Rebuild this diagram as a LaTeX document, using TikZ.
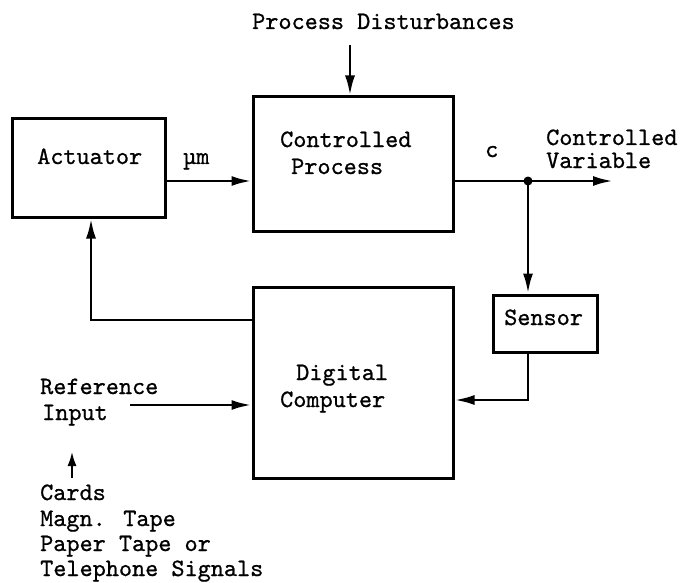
\documentclass[tikz,border=0pt]{standalone}
\usepackage{fontspec}
\newfontfamily\twfont{lmmono10-regular.otf}[FakeBold=0.8]
\usetikzlibrary{arrows.meta}
\begin{document}
\begin{tikzpicture}[x=1pt,y=-1pt,
  box/.style={draw, line width=3pt, inner sep=0pt},
  lbl/.style={font=\fontsize{25}{26}\selectfont\twfont, inner sep=0pt, anchor=west, text height=14pt, text depth=0pt},
  conn/.style={line width=2.8pt},
  arr/.style={conn, -{Latex[length=20pt,width=10pt]}}]
\useasboundingbox (0,0) rectangle (680,583);
% boxes
\node[box, minimum width=153pt, minimum height=98pt] (act) at (88.5,168) {};
\node[box, minimum width=200pt, minimum height=134pt] (proc) at (353,164) {};
\node[box, minimum width=200pt, minimum height=191pt] (dc) at (353,382.5) {};
\node[box, minimum width=104pt, minimum height=57pt] (sens) at (545,323.5) {};
% labels
\node[lbl] (tact) at (37,157) {Actuator};
\node[lbl] (tmu) at (183,157) {µm};
\node[lbl] (tproc1) at (280,140) {Controlled};
\node[lbl] (tproc2) at (291,167) {Process};
\node[lbl] (tc) at (485,150) {c};
\node[lbl] (tcv1) at (546,138) {Controlled};
\node[lbl] (tcv2) at (546,161) {Variable};
\node[lbl] (tpd) at (252,22) {Process Disturbances};
\node[lbl] (tdc1) at (296,373) {Digital};
\node[lbl] (tdc2) at (280,400) {Computer};
\node[lbl] (tsens) at (504,318) {Sensor};
\node[lbl] (tref1) at (40,387) {Reference};
\node[lbl] (tref2) at (42,413) {Input};
\node[lbl] (tcards) at (40,493) {Cards};
\node[lbl] (tmag) at (40,519) {Magn. Tape};
\node[lbl] (tpap) at (40,544) {Paper Tape or};
\node[lbl] (ttel) at (40,569) {Telephone Signals};
% coordinates
\coordinate (j) at (528,181);
\coordinate (out) at (613,181);
\coordinate (d) at (350,45);
\coordinate (fb) at (91,320);
\coordinate (sb) at (528,400);
\coordinate (r) at (130,405);
\coordinate (s1) at (72,478);
\coordinate (s2) at (72,451);
% connectors
\draw[arr] (d) -- (proc.north -| d);
\draw[arr] (act.east |- j) -- (proc.west |- j);
\draw[arr] (proc.east |- j) -- (out);
\fill (j) circle (4.5pt);
\draw[arr] (j) -- (sens.north -| j);
\draw[arr] (sens.south -| j) -- (sb) -- (dc.east |- sb);
\draw[arr] (dc.west |- fb) -- (fb) -- (act.south -| fb);
\draw[arr] (r) -- (dc.west |- r);
\draw[conn, -{Latex[length=15pt,width=9pt]}] (s1) -- (s2);
\end{tikzpicture}
\end{document}
